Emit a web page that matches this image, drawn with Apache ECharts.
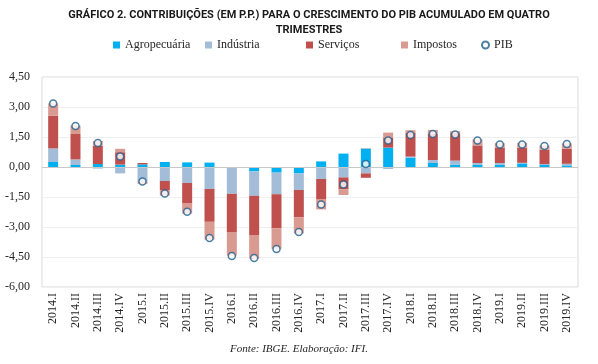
<!DOCTYPE html>
<html><head><meta charset="utf-8">
<script src="https://cdn.jsdelivr.net/npm/echarts@6/dist/echarts.min.js"></script>
<style>html,body{margin:0;padding:0;background:#fff}#c{width:598px;height:364px}</style>
</head><body><div id="c"></div>
<script>
const categories = ['2014.I','2014.II','2014.III','2014.IV','2015.I','2015.II','2015.III','2015.IV','2016.I','2016.II','2016.III','2016.IV','2017.I','2017.II','2017.III','2017.IV','2018.I','2018.II','2018.III','2018.IV','2019.I','2019.II','2019.III','2019.IV'];
const agropecuaria = [0.25,0.10,0.15,0.12,0.13,0.25,0.23,0.22,-0.02,-0.22,-0.28,-0.32,0.28,0.67,0.92,0.97,0.47,0.20,0.12,0.10,0.10,0.18,0.12,0.08];
const industria = [0.68,0.28,-0.08,-0.32,-0.72,-0.70,-0.80,-1.10,-1.32,-1.22,-1.08,-0.83,-0.60,-0.52,-0.32,-0.10,0.05,0.15,0.20,0.10,0.10,0.03,0.02,0.08];
const servicos = [1.63,1.27,0.92,0.62,0.07,-0.45,-1.00,-1.64,-1.94,-1.96,-1.70,-1.37,-1.00,-0.60,-0.22,0.48,1.20,1.33,1.37,0.88,0.77,0.75,0.72,0.75];
const impostos = [0.62,0.42,0.23,0.17,-0.12,-0.28,-0.53,-0.89,-1.15,-1.19,-1.03,-0.80,-0.52,-0.28,0.02,0.27,0.12,0.17,0.10,0.30,0.22,0.25,0.22,0.27];
const pib = [3.18,2.05,1.20,0.52,-0.73,-1.32,-2.24,-3.55,-4.45,-4.55,-4.10,-3.25,-1.88,-0.87,0.15,1.33,1.60,1.65,1.62,1.33,1.12,1.12,1.05,1.15];
const yTicks = {min:-6, max:4.5, interval:1.5};

const serif = 'Liberation Serif';
const chart = echarts.init(document.getElementById('c'), null, {renderer:'canvas'});
const legendText = {fontFamily:serif, fontSize:12, color:'#262626'};
function leg(name, left, icon){
  return {data:[name], left:left, top:39, itemWidth:7, itemHeight:7, icon:icon||'rect', textStyle:legendText, itemGap:0, padding:0};
}
function barS(name, data, color){
  return {name:name, type:'bar', stack:'t', data:data, barWidth:10, itemStyle:{color:color}};
}
chart.setOption({
  animation:false,
  title:{
    text:'GRÁFICO 2. CONTRIBUIÇÕES (EM P.P.) PARA O CRESCIMENTO DO PIB ACUMULADO EM QUATRO\nTRIMESTRES',
    left:304, top:3, textAlign:'center',
    textStyle:{fontFamily:'Roboto', fontWeight:'bold', fontSize:11, color:'#1a1a1a', lineHeight:15}
  },
  legend:[leg('Agropecuária',113), leg('Indústria',205), leg('Serviços',306), leg('Impostos',401), {data:[{name:'PIB', icon:'circle'}], left:481, top:39, itemWidth:7, itemHeight:7, textStyle:legendText, padding:0}],
  grid:{left:42, right:20, top:77, bottom:77, show:true, borderColor:'#d9d9d9', borderWidth:1},
  graphic:[{type:'text', left:'center', top:344, style:{text:'Fonte: IBGE. Elaboração: IFI.', font:'italic 11px "Liberation Serif"', fill:'#262626'}}],
  xAxis:{type:'category', data:categories, axisLine:{show:false}, axisTick:{show:false},
    axisLabel:{rotate:90, fontFamily:serif, fontSize:12, color:'#262626', margin:6, interval:0}},
  yAxis:{type:'value', min:yTicks.min, max:yTicks.max, interval:yTicks.interval,
    axisLine:{show:false}, axisTick:{show:false},
    splitLine:{lineStyle:{color:'#efefef', width:1}},
    axisLabel:{fontFamily:serif, fontSize:12, color:'#262626', margin:12, formatter:v=>v.toFixed(2).replace('.',',')}},
  series:[
    barS('Agropecuária', agropecuaria, '#00b0f0'),
    barS('Indústria', industria, '#a3bcd8'),
    Object.assign(barS('Serviços', servicos, '#c0504d'), {markLine:{silent:true, symbol:'none', label:{show:false}, lineStyle:{color:'#c8c8c8', type:'solid', width:1}, data:[{yAxis:0}]}}),
    barS('Impostos', impostos, '#d99a91'),
    {name:'PIB', type:'scatter', data:pib, symbol:'circle', symbolSize:7, z:10,
     itemStyle:{color:'#ffffff', borderColor:'#1f5f8b', borderWidth:1.5}}
  ]
});
</script></body></html>
